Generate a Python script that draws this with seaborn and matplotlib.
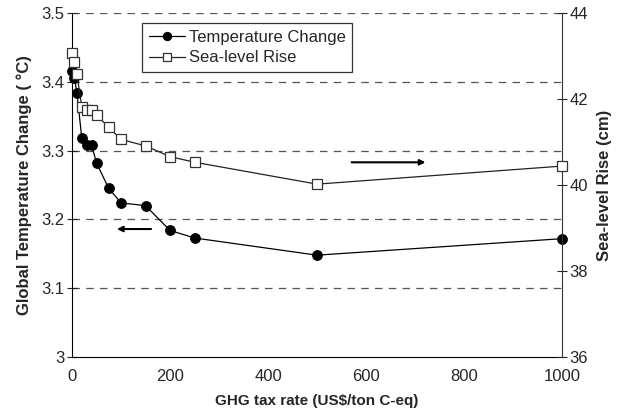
import matplotlib
matplotlib.use("Agg")
import matplotlib.pyplot as plt
import seaborn as sns
import pandas as pd

# =========================
# Data
# =========================
tax_rate = [0, 5, 10, 20, 30, 40, 50, 75, 100, 150, 200, 250, 500, 1000]
temp_change = [3.415, 3.405, 3.384, 3.318, 3.308, 3.308, 3.282, 3.245,
               3.224, 3.220, 3.184, 3.173, 3.148, 3.172]
sea_level = [43.06, 42.86, 42.58, 41.82, 41.74, 41.74, 41.63, 41.34,
             41.06, 40.91, 40.66, 40.53, 40.02, 40.44]

df = pd.DataFrame({"tax": tax_rate, "temp": temp_change, "sea": sea_level})

sns.set_style("white")
plt.rcParams["font.family"] = ["Liberation Sans", "DejaVu Sans"]

fig = plt.figure(figsize=(6.17, 4.13), dpi=100)
ax = fig.add_axes([0.1167, 0.1356, 0.7942, 0.8329])
ax2 = ax.twinx()

# dashed grid on left axis
for yv in [3.1, 3.2, 3.3, 3.4, 3.5]:
    ax.axhline(yv, color="#555555", lw=0.9, ls=(0, (6, 5)), zorder=0)

sns.lineplot(data=df, x="tax", y="temp", ax=ax, color="black", lw=0.9,
             marker="o", markersize=7, markerfacecolor="black",
             markeredgecolor="black", clip_on=False, zorder=3)
sns.lineplot(data=df, x="tax", y="sea", ax=ax2, color="#222222", lw=0.9,
             marker="s", markersize=7, markerfacecolor="white",
             markeredgecolor="#333333", markeredgewidth=0.9, clip_on=False, zorder=3)

ax.set_xlim(0, 1000)
ax.set_ylim(3.0, 3.5)
ax2.set_ylim(36, 44)
ax.set_xticks([0, 200, 400, 600, 800, 1000])
ax.set_yticks([3.0, 3.1, 3.2, 3.3, 3.4, 3.5])
ax.set_yticklabels(["3", "3.1", "3.2", "3.3", "3.4", "3.5"])
ax2.set_yticks([36, 38, 40, 42, 44])

for a in (ax, ax2):
    a.spines["top"].set_visible(False)
ax.spines["right"].set_visible(False)
ax.spines["left"].set_color("black")
ax.spines["bottom"].set_color("black")
ax2.spines["left"].set_visible(False)
ax2.spines["bottom"].set_visible(False)
ax2.spines["right"].set_color("#333333")

ax.tick_params(axis="y", direction="inout", length=7, width=0.8, labelsize=12, pad=2)
ax.tick_params(axis="x", direction="in", length=4, width=0.8, labelsize=12, pad=9)
ax2.tick_params(axis="y", direction="inout", length=7, width=0.8, labelsize=12, pad=2)

ax.set_xlabel("GHG tax rate (US$/ton C-eq)", fontsize=11, fontweight="bold", labelpad=7)
ax.set_ylabel("Global Temperature Change ( °C)", fontsize=12, fontweight="bold", labelpad=7)
ax2.set_ylabel("Sea-level Rise (cm)", fontsize=12, fontweight="bold", labelpad=6)

# direction arrows
ax.annotate("", xy=(86, 3.186), xytext=(167, 3.186),
            arrowprops=dict(arrowstyle="-|>", color="black", lw=1.5, mutation_scale=8))
ax.annotate("", xy=(727, 3.283), xytext=(565, 3.283),
            arrowprops=dict(arrowstyle="-|>", color="black", lw=1.5, mutation_scale=8))

# legend for both series (squares drawn above circles, so legend sits on ax2)
h1 = ax.get_lines()[-1]
h2 = ax2.get_lines()[-1]
leg = ax2.legend([h1, h2], ["Temperature Change", "Sea-level Rise"],
                 loc="upper left", bbox_to_anchor=(0.143, 0.971), borderaxespad=0,
                 frameon=True, fancybox=False, fontsize=12, handlelength=2.2,
                 handletextpad=0.2, borderpad=0.4, labelspacing=0.35, markerscale=0.85)
leg.get_frame().set_edgecolor("black")
leg.get_frame().set_linewidth(0.9)
leg.set_zorder(5)

plt.savefig("out.png", dpi=100)
